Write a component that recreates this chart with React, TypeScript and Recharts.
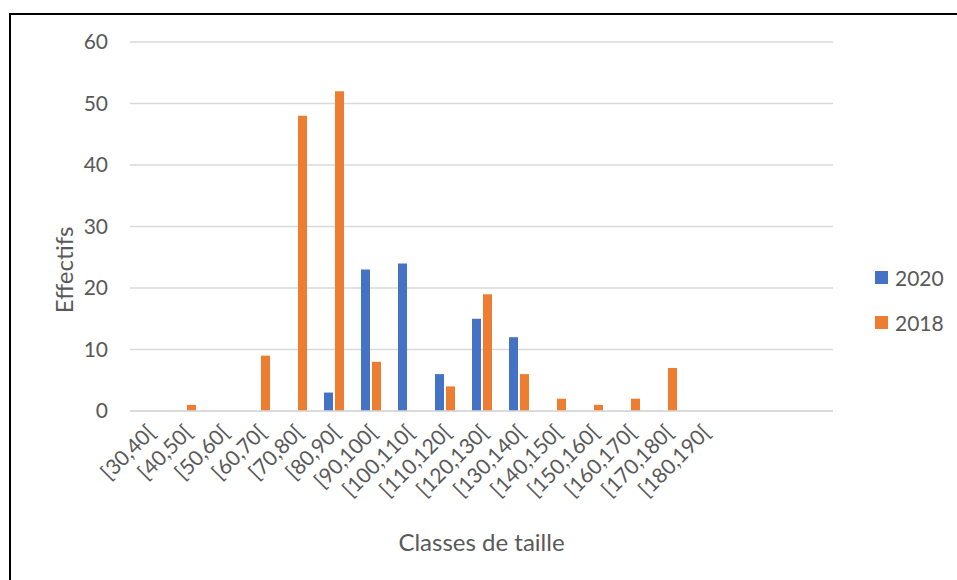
import React from "react";
import {
  BarChart,
  Bar,
  XAxis,
  YAxis,
  CartesianGrid,
} from "recharts";

// size classes (the last three slots are empty in the source sheet)
const CLASSES = [
  "[30,40[", "[40,50[", "[50,60[", "[60,70[", "[70,80[", "[80,90[", "[90,100[",
  "[100,110[", "[110,120[", "[120,130[", "[130,140[", "[140,150[", "[150,160[",
  "[160,170[", "[170,180[", "[180,190[", "", "", "",
];

const COUNTS_2020 = [0, 0, 0, 0, 0, 3, 23, 24, 6, 15, 12, 0, 0, 0, 0, 0, 0, 0, 0];
const COUNTS_2018 = [0, 1, 0, 9, 48, 52, 8, 0, 4, 19, 6, 2, 1, 2, 7, 0, 0, 0, 0];

const Y_TICKS = [0, 10, 20, 30, 40, 50, 60];

const SERIES = [
  { key: "y2020", name: "2020", color: "#4472C4" },
  { key: "y2018", name: "2018", color: "#ED7D31" },
];

const GRID = "#D9D9D9";
const TEXT = "#595959";
const FONT = "Lato, 'Open Sans', sans-serif";

const data = CLASSES.map((c, i) => ({
  classe: c,
  y2020: COUNTS_2020[i],
  y2018: COUNTS_2018[i],
}));

const ClassTick = (props: any) => {
  const { x, y, payload } = props;
  const tx = x + 8;
  const ty = y + 15;
  return (
    <text
      x={tx}
      y={ty}
      transform={`rotate(-45, ${tx}, ${ty})`}
      textAnchor="end"
      fill={TEXT}
      fontSize={21}
      fontFamily={FONT}
    >
      {payload.value}
    </text>
  );
};

export default function App() {
  return (
    <div
      style={{
        position: "fixed",
        left: 0,
        top: 0,
        width: 957,
        height: 580,
        background: "#fff",
        overflow: "hidden",
      }}
    >
      <div
        style={{
          position: "absolute",
          left: 9,
          top: 13,
          width: 1000,
          height: 700,
          border: "2px solid #000",
        }}
      />
      <div style={{ position: "absolute", left: 0, top: 0 }}>
        <BarChart
          width={957}
          height={580}
          data={data}
          margin={{ top: 42, right: 124, bottom: 0, left: 70 }}
          barSize={9}
          barGap={2}
        >
          <CartesianGrid vertical={false} stroke={GRID} strokeWidth={1.5} />
          <XAxis
            dataKey="classe"
            height={169}
            interval={0}
            tickLine={false}
            axisLine={{ stroke: GRID, strokeWidth: 1.5 }}
            tick={<ClassTick />}
            label={{
              value: "Classes de taille",
              position: "insideBottom",
              offset: 29,
              fill: TEXT,
              fontSize: 24,
              fontFamily: FONT,
            }}
          />
          <YAxis
            width={60}
            domain={[0, 60]}
            ticks={Y_TICKS}
            tickLine={false}
            axisLine={false}
            tickMargin={16}
            tick={{ fill: TEXT, fontSize: 21, fontFamily: FONT }}
            label={{
              value: "Effectifs",
              angle: -90,
              position: "left",
              offset: 6,
              fill: TEXT,
              fontSize: 24,
              fontFamily: FONT,
            }}
          />
          {SERIES.map((s) => (
            <Bar
              key={s.key}
              dataKey={s.key}
              name={s.name}
              fill={s.color}
              isAnimationActive={false}
            />
          ))}
        </BarChart>
      </div>
      <div
        style={{
          position: "absolute",
          left: 875,
          top: 255,
          fontFamily: FONT,
          fontSize: 21,
          color: TEXT,
        }}
      >
        {SERIES.map((s) => (
          <div
            key={s.key}
            style={{ display: "flex", alignItems: "center", height: 45 }}
          >
            <span
              style={{
                display: "inline-block",
                width: 13,
                height: 13,
                background: s.color,
                marginRight: 7,
              }}
            />
            {s.name}
          </div>
        ))}
      </div>
    </div>
  );
}
